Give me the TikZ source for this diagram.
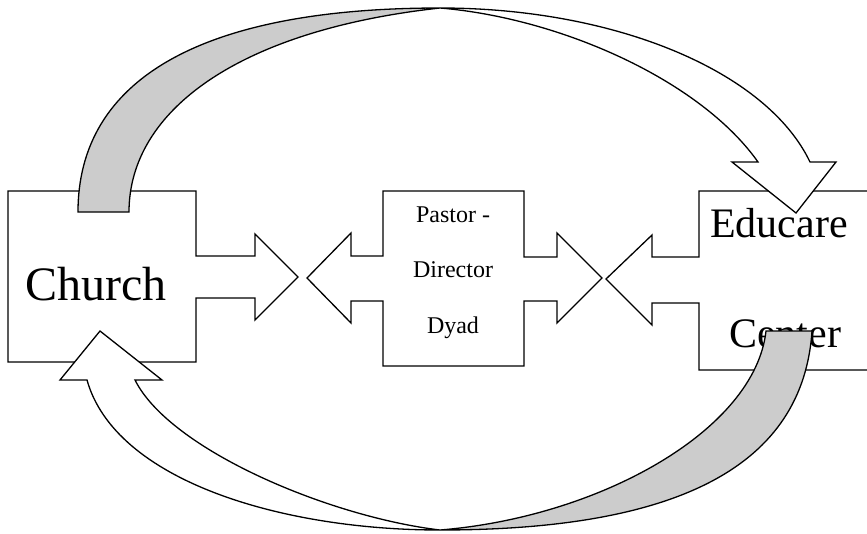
\documentclass[tikz,border=0pt]{standalone}
\usepackage{fontspec}
\setmainfont{Liberation Serif}
\definecolor{curlgray}{RGB}{204,204,204}
\begin{document}
\begin{tikzpicture}[x=1pt,y=-1pt,
  outline/.style={draw=black,line width=1.3pt,line join=miter,fill=white},
  undershade/.style={outline,fill=curlgray},
  bigtext/.style={anchor=base,inner sep=0pt,font=\fontsize{48}{52}\selectfont},
  midtext/.style={anchor=base,inner sep=0pt,font=\fontsize{42}{46}\selectfont},
  smalltext/.style={anchor=base,inner sep=0pt,font=\fontsize{24}{28}\selectfont}]
\useasboundingbox (0,0) rectangle (867,533);
\clip (0,0) rectangle (867,533);

% Church: box with an arrow pointing right
\draw[outline] (8,191) -- (196,191) -- (196,256) -- (255,256) -- (255,234)
  -- (298,277) -- (255,320) -- (255,298) -- (196,298) -- (196,362) -- (8,362) -- cycle;

% Pastor - Director Dyad: box with arrows pointing both ways
\draw[outline] (383,191) -- (524,191) -- (524,257) -- (557,257) -- (557,233)
  -- (602,278) -- (557,323) -- (557,301) -- (524,301) -- (524,366) -- (383,366)
  -- (383,301) -- (351,301) -- (351,323) -- (307,278) -- (351,233) -- (351,256)
  -- (383,256) -- cycle;

% Educare Center: box with an arrow pointing left, running off the right edge
\draw[outline] (880,191) -- (699,191) -- (699,257) -- (652,257) -- (652,235)
  -- (606,279) -- (652,325) -- (652,303) -- (699,303) -- (699,370) -- (880,370) -- cycle;

% labels
\node[bigtext] (church) at (96,300) {Church};
\node[smalltext] (pastor) at (453,222) {Pastor -};
\node[smalltext] (director) at (453,277) {Director};
\node[smalltext] (dyad) at (453,333) {Dyad};
\node[midtext] (educare) at (779,237) {Educare};
\node[midtext] (center) at (785,347) {Center};

% curved arrow over the top: shaded underside rising from the church
\draw[undershade] (78,212) .. controls (78,80) and (200,8) .. (440,8)
  .. controls (240,30) and (129,110) .. (129,212) -- cycle;
% ... and its front face coming down onto the educare centre
\draw[outline] (440,8) .. controls (615,8) and (766.5,71) .. (810,162)
  -- (836,162) -- (796,213) -- (732,162) -- (758,162)
  .. controls (700,80) and (560,18) .. (440,8) -- cycle;

% curved arrow underneath: shaded underside leaving the centre
\draw[undershade] (766,331) -- (812,331) .. controls (803,465) and (680,530) .. (440,530)
  .. controls (600,517) and (755,430) .. (766,331) -- cycle;
% ... and its front face rising back to the church
\draw[outline] (440,530) .. controls (280,530) and (115,480) .. (87,380)
  -- (60,380) -- (100,331) -- (162,380) -- (135,380)
  .. controls (170,450) and (330,517) .. (440,530) -- cycle;
\end{tikzpicture}
\end{document}
